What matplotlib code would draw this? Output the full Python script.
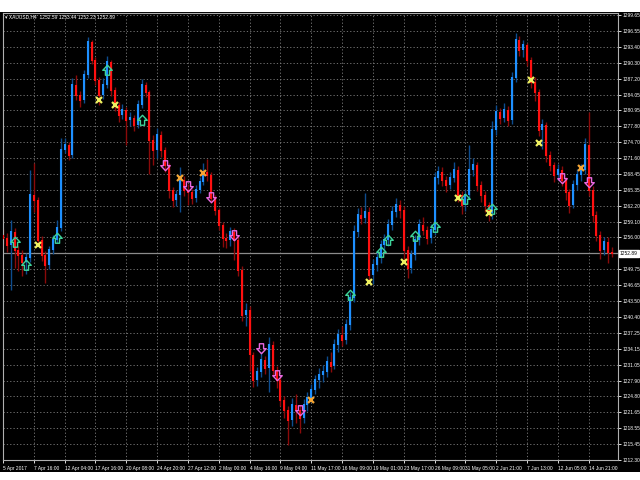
import matplotlib
matplotlib.use("Agg")
import matplotlib.pyplot as plt
import matplotlib.transforms as mtransforms
from matplotlib.patches import Rectangle
from matplotlib.path import Path
import numpy as np


first_open = 1256.5

closes = [
    1255.9, 1254.5, 1257.1, 1253.5, 1252.6, 1251.2, 1252.0, 1264.3, 1263.4, 1255.5,
    1252.6, 1250.6, 1253.5, 1255.5, 1257.9, 1273.2, 1274.2, 1272.2, 1286.0, 1284.0,
    1283.0, 1287.9, 1294.4, 1290.9, 1286.9, 1284.0, 1286.0, 1290.5, 1285.0, 1282.0,
    1280.1, 1281.0, 1279.1, 1279.5, 1278.1, 1282.0, 1286.0, 1284.6, 1275.1, 1273.2,
    1276.1, 1273.2, 1270.2, 1265.3, 1263.4, 1264.3, 1267.3, 1265.3, 1264.9, 1263.8,
    1265.3, 1266.9, 1268.9, 1268.3, 1263.8, 1261.4, 1258.5, 1255.9, 1255.5, 1257.1,
    1255.5, 1249.6, 1240.8, 1241.7, 1233.0, 1228.0, 1229.6, 1231.9, 1230.4, 1234.9,
    1230.0, 1228.0, 1224.1, 1222.1, 1220.2, 1223.1, 1222.1, 1220.5, 1223.1, 1224.5,
    1226.0, 1228.0, 1229.0, 1229.6, 1231.5, 1230.8, 1234.9, 1236.9, 1235.9, 1238.8,
    1244.1, 1257.1, 1260.4, 1259.8, 1261.0, 1248.6, 1250.6, 1252.0, 1254.5, 1255.5,
    1258.5, 1261.0, 1262.4, 1261.4, 1253.5, 1250.0, 1252.6, 1255.5, 1258.5, 1257.5,
    1255.9, 1257.5, 1267.7, 1268.9, 1267.3, 1266.3, 1267.7, 1269.3, 1264.3, 1262.4,
    1264.3, 1269.3, 1270.2, 1266.3, 1264.3, 1262.4, 1260.8, 1277.1, 1280.6, 1279.5,
    1281.0, 1279.1, 1287.3, 1294.8, 1292.8, 1293.8, 1290.9, 1286.5, 1284.6, 1277.1,
    1278.1, 1272.2, 1270.2, 1268.3, 1269.3, 1267.3, 1264.9, 1262.4, 1266.3, 1268.3,
    1269.3, 1274.2, 1265.3, 1260.4, 1256.5, 1253.5, 1255.1, 1253.2, 1252.89,
]

highs = [
    1257.6, 1256.8, 1259.4, 1257.8, 1254.4, 1253.5, 1253.0, 1269.3, 1270.6, 1264.0,
    1256.2, 1253.3, 1254.4, 1256.4, 1259.4, 1275.5, 1275.5, 1274.8, 1287.3, 1287.9,
    1284.8, 1288.9, 1295.4, 1294.8, 1291.4, 1287.5, 1287.3, 1291.6, 1290.9, 1285.6,
    1282.6, 1282.2, 1281.6, 1280.6, 1280.1, 1283.0, 1287.1, 1286.5, 1284.9, 1276.1,
    1277.5, 1276.9, 1273.8, 1270.6, 1265.9, 1265.3, 1269.8, 1268.1, 1266.5, 1265.5,
    1266.3, 1267.9, 1270.6, 1271.4, 1268.9, 1264.3, 1261.8, 1259.0, 1256.9, 1258.1,
    1257.9, 1256.3, 1250.4, 1243.1, 1242.5, 1233.5, 1230.6, 1233.5, 1232.7, 1236.5,
    1235.7, 1230.8, 1228.6, 1224.9, 1222.9, 1224.5, 1225.3, 1223.1, 1224.3, 1225.7,
    1227.2, 1229.0, 1230.4, 1231.0, 1232.7, 1233.5, 1236.1, 1238.0, 1238.6, 1240.0,
    1245.3, 1258.5, 1261.8, 1262.0, 1264.7, 1262.0, 1251.8, 1253.3, 1255.5, 1256.7,
    1259.6, 1262.2, 1263.8, 1263.4, 1262.2, 1254.3, 1253.5, 1256.5, 1259.6, 1260.0,
    1258.3, 1258.7, 1268.9, 1270.0, 1269.8, 1268.1, 1268.9, 1270.8, 1270.0, 1265.1,
    1265.3, 1274.2, 1271.6, 1270.8, 1267.1, 1265.1, 1263.0, 1278.9, 1282.0, 1281.4,
    1282.4, 1281.8, 1288.5, 1296.2, 1295.6, 1294.8, 1294.2, 1291.4, 1287.5, 1285.2,
    1279.3, 1278.7, 1272.9, 1270.8, 1270.4, 1270.0, 1267.9, 1265.5, 1267.3, 1269.4,
    1270.4, 1275.5, 1280.6, 1266.1, 1261.2, 1257.3, 1256.1, 1256.0, 1254.1,
]

lows = [
    1254.8, 1253.2, 1245.7, 1250.0, 1249.4, 1248.5, 1248.9, 1251.2, 1261.0, 1254.6,
    1251.4, 1247.1, 1249.8, 1252.8, 1254.9, 1257.2, 1272.5, 1271.2, 1271.6, 1283.0,
    1281.6, 1282.4, 1287.3, 1290.0, 1285.9, 1282.0, 1283.2, 1285.4, 1283.8, 1280.8,
    1278.7, 1279.3, 1274.2, 1277.9, 1276.9, 1277.5, 1281.4, 1283.6, 1268.5, 1270.2,
    1271.6, 1271.8, 1268.9, 1263.8, 1261.9, 1262.2, 1261.0, 1264.1, 1262.4, 1262.6,
    1263.0, 1264.7, 1266.3, 1267.1, 1262.8, 1260.4, 1257.5, 1254.1, 1254.0, 1254.3,
    1251.5, 1248.4, 1239.6, 1238.6, 1229.8, 1226.6, 1226.8, 1228.6, 1229.2, 1225.6,
    1228.8, 1226.4, 1222.9, 1220.5, 1215.2, 1219.0, 1219.6, 1217.6, 1219.5, 1222.0,
    1223.6, 1225.2, 1226.4, 1227.6, 1228.6, 1229.6, 1230.2, 1233.5, 1234.7, 1235.1,
    1237.8, 1243.3, 1256.1, 1258.7, 1258.9, 1247.6, 1246.9, 1249.4, 1251.0, 1253.3,
    1254.3, 1257.5, 1260.0, 1259.8, 1251.6, 1248.1, 1249.0, 1251.6, 1254.5, 1256.5,
    1254.7, 1254.9, 1256.5, 1266.5, 1266.1, 1264.9, 1265.5, 1266.9, 1263.0, 1260.6,
    1261.2, 1263.6, 1268.1, 1265.1, 1263.0, 1261.0, 1259.2, 1259.6, 1276.1, 1278.3,
    1278.7, 1277.9, 1278.3, 1286.5, 1291.6, 1291.4, 1289.7, 1285.4, 1282.8, 1275.9,
    1273.4, 1270.8, 1269.0, 1266.9, 1267.3, 1266.1, 1263.4, 1260.8, 1261.8, 1265.3,
    1267.1, 1268.5, 1264.1, 1259.0, 1255.3, 1251.8, 1252.6, 1251.0, 1252.2,
]

buy_idx = [3, 6, 14, 27, 36, 90, 98, 100, 107, 112, 120, 127]
buy_px = [1255.1, 1250.6, 1255.9, 1288.9, 1279.1, 1244.7, 1253.2, 1255.5,
          1256.3, 1258.1, 1263.6, 1261.6]
sell_idx = [42, 48, 54, 60, 67, 71, 77, 145, 152]
sell_px = [1270.2, 1266.1, 1263.9, 1256.5, 1234.3, 1229.0, 1222.1, 1267.7, 1266.9]
exit_buy_idx = [9, 25, 29, 95, 104, 118, 126, 137, 139]
exit_buy_px = [1254.5, 1283.0, 1282.0, 1247.2, 1251.2, 1263.8, 1260.8, 1286.9, 1274.6]
exit_sell_idx = [46, 52, 80, 150]
exit_sell_px = [1267.7, 1268.7, 1224.1, 1269.6]

date_labels = [
    "5 Apr 2017", "7 Apr 16:00", "12 Apr 04:00", "17 Apr 16:00", "20 Apr 08:00",
    "24 Apr 20:00", "27 Apr 12:00", "2 May 00:00", "4 May 16:00", "9 May 04:00",
    "11 May 17:00", "16 May 09:00", "19 May 01:00", "23 May 17:00", "26 May 09:00",
    "31 May 05:00", "2 Jun 21:00", "7 Jun 13:00", "12 Jun 05:00", "14 Jun 21:00",
]
bars_per_label = 8

price_labels = [
    "1299.65", "1296.55", "1293.40", "1290.30", "1287.20", "1284.05", "1280.95",
    "1277.80", "1274.70", "1271.60", "1268.45", "1265.35", "1262.20", "1259.10",
    "1256.00", "", "1249.75", "1246.65", "1243.50", "1240.40", "1237.25",
    "1234.15", "1231.05", "1227.90", "1224.80", "1221.65", "1218.55", "1215.45",
    "1212.30",
]
price_levels = [1299.65, 1296.55, 1293.40, 1290.30, 1287.20, 1284.05, 1280.95,
                1277.80, 1274.70, 1271.60, 1268.45, 1265.35, 1262.20, 1259.10,
                1256.00, 1252.87, 1249.75, 1246.65, 1243.50, 1240.40, 1237.25,
                1234.15, 1231.05, 1227.90, 1224.80, 1221.65, 1218.55, 1215.45,
                1212.30]

last_price = 1252.89
title = "\u25be XAUUSD,H4  1252.59 1253.44 1252.23 1252.89"

UP = "#1E90FF"
UP_DARK = "#0D4C8E"
DOWN = "#FF1010"
DOWN_DARK = "#8A0A0A"
GRID = "#808080"
FONT = ["Liberation Sans", "DejaVu Sans"]
FS = 3.5


def arrow_marker(up=True):
    verts = [(-0.22, -0.5), (0.22, -0.5), (0.22, 0.02), (0.5, 0.02),
             (0.0, 0.55), (-0.5, 0.02), (-0.22, 0.02), (-0.22, -0.5)]
    if not up:
        verts = [(x, -y) for x, y in verts]
    codes = [Path.MOVETO] + [Path.LINETO] * 6 + [Path.CLOSEPOLY]
    return Path(verts, codes)


plt.rcParams["font.family"] = FONT

W, H = 640, 480
fig = plt.figure(figsize=(6.4, 4.8), dpi=100, facecolor="white")
fig.patches.append(Rectangle((0, 8 / H), 1, (472 - 12) / H, transform=fig.transFigure,
                             facecolor="black", edgecolor="none", zorder=-10))

ax = fig.add_axes([3 / W, 20 / H, 615 / W, 447 / H])
ax.set_facecolor("black")

x = np.arange(len(closes))
c = np.array(closes)
o = np.concatenate([[first_open], c[:-1]])
hi = np.array(highs)
lo = np.array(lows)
up = c >= o

ax.vlines(x[up], lo[up], hi[up], color=UP_DARK, lw=1.0, zorder=2)
ax.vlines(x[~up], lo[~up], hi[~up], color=DOWN_DARK, lw=1.0, zorder=2)
ax.vlines(x[up], np.minimum(o, c)[up], np.maximum(o, c)[up] + 0.15, color=UP, lw=1.5, zorder=3)
ax.vlines(x[~up], np.minimum(o, c)[~up] - 0.15, np.maximum(o, c)[~up], color=DOWN, lw=1.5, zorder=3)

ax.axhline(last_price, color="#8c8c8c", lw=0.9, zorder=1)

ax.plot(buy_idx, buy_px, ls="none", marker=arrow_marker(True), ms=7.5,
        mfc="none", mec="#3ED39A", mew=1.0, zorder=5)
ax.plot(sell_idx, sell_px, ls="none", marker=arrow_marker(False), ms=7.5,
        mfc="none", mec="#E868E0", mew=1.0, zorder=5)
ax.plot(exit_buy_idx, exit_buy_px, ls="none", marker="x", ms=4.2,
        mec="#EEF060", mew=1.6, zorder=5)
ax.plot(exit_sell_idx, exit_sell_px, ls="none", marker="x", ms=4.2,
        mec="#F4A535", mew=1.6, zorder=5)

ax.set_xlim(0.13, 159.6)
ax.set_ylim(1212.30, 1300.09)

ax.set_xticks(np.arange(len(date_labels)) * bars_per_label)
ax.set_xticklabels(date_labels)
for lab in ax.get_xticklabels():
    lab.set_horizontalalignment("left")
ax.set_yticks(price_levels)
ax.set_yticklabels(price_labels)
ax.yaxis.tick_right()
ax.tick_params(axis="both", colors="white", labelsize=FS, length=2.5, width=0.6, pad=1.0)
ax.tick_params(axis="x", pad=1.5)

ax.grid(True, color=GRID, lw=0.6, ls=(0, (1.5, 2.5)))
ax.set_axisbelow(True)
for s in ax.spines.values():
    s.set_color("#b0b0b0")
    s.set_linewidth(0.8)

trans = mtransforms.blended_transform_factory(ax.transAxes, ax.transData)
ax.text(1.003, last_price, "1252.89", transform=trans, fontsize=FS, color="black",
        ha="left", va="center", clip_on=False,
        bbox=dict(facecolor="white", edgecolor="white", pad=0.6))

fig.text(5 / W, 1 - 17 / H, title, color="white", fontsize=FS, va="center", ha="left")

fig.savefig("out.png", dpi=100, facecolor=fig.get_facecolor())
